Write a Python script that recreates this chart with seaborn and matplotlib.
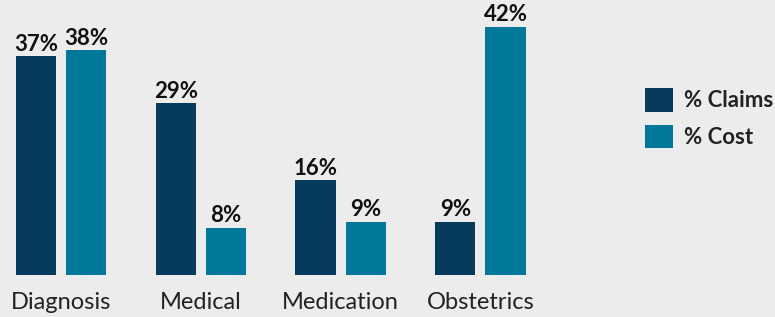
import pandas as pd
import matplotlib.pyplot as plt
import seaborn as sns

# Chart data
categories = ["Diagnosis", "Medical", "Medication", "Obstetrics"]
claims_pct = [37, 29, 16, 9]
cost_pct = [38, 8, 9, 42]
series_names = ["% Claims", "% Cost"]
colors = ["#073b5c", "#00789a"]
bg = "#ececec"

data = pd.DataFrame({
    "category": categories * 2,
    "series": [series_names[0]] * 4 + [series_names[1]] * 4,
    "value": claims_pct + cost_pct,
})

sns.set_style("white")
plt.rcParams["font.family"] = ["Lato", "DejaVu Sans"]

fig = plt.figure(figsize=(7.75, 3.17), dpi=100, facecolor=bg)
ax = fig.add_axes([0, 42 / 317, 560 / 775, 275 / 317])
ax.set_facecolor(bg)

sns.barplot(data=data, x="category", y="value", hue="series",
            palette=colors, width=0.72, gap=0.2, saturation=1,
            linewidth=0, ax=ax, legend=False)

# Value labels above bars
for container in ax.containers:
    ax.bar_label(container, fmt="%d%%", padding=1, fontsize=16,
                 fontweight="bold", color="#111111")

ax.set_xlim(-61 / 139.8, (560 - 61) / 139.8)
ax.set_ylim(0, 46.5)
ax.set_xlabel("")
ax.set_ylabel("")
ax.set_yticks([])
ax.tick_params(axis="x", length=0, pad=12, labelsize=17, labelcolor="#222222")
for s in ax.spines.values():
    s.set_visible(False)

# Legend on the right
handles = [plt.Rectangle((0, 0), 1, 1, color=c, linewidth=0) for c in colors]
fig.legend(handles, series_names, loc="upper left",
           bbox_to_anchor=(645 / 775, 1 - 88 / 317), frameon=False,
           borderpad=0, borderaxespad=0,
           handlelength=1.25, handleheight=1.25, handletextpad=0.5,
           labelspacing=0.6, prop={"size": 16, "weight": "bold"},
           labelcolor="#222222")

fig.savefig("out.png", dpi=100, facecolor=bg)
